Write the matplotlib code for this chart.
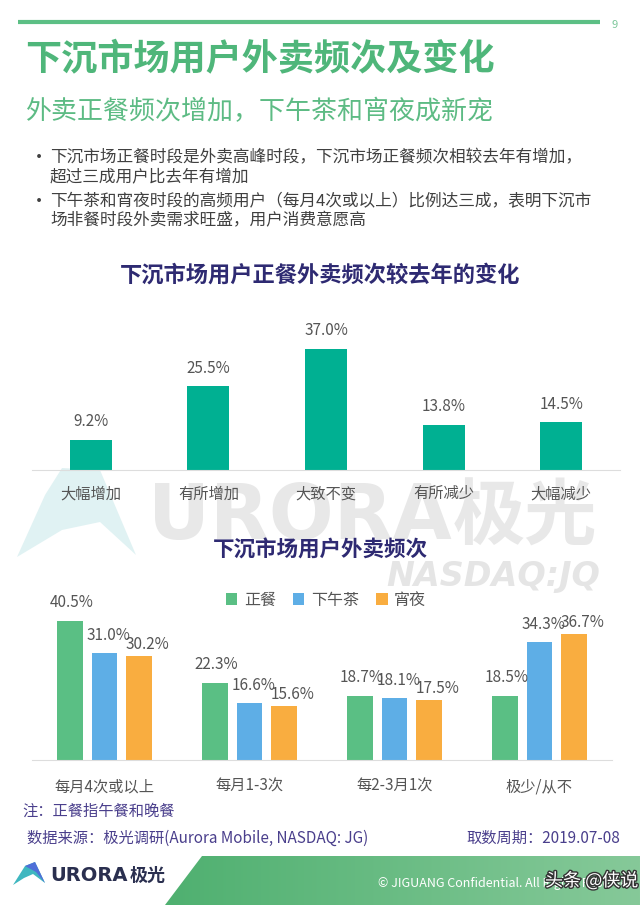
import numpy as np
import matplotlib
matplotlib.use("Agg")
import matplotlib.pyplot as plt
from matplotlib.patches import Polygon
import matplotlib.patheffects as pe

plt.rcParams['font.family'] = ['Noto Sans CJK SC', 'DejaVu Sans']

# 数据
change_labels = ["大幅增加", "有所增加", "大致不变", "有所减少", "大幅减少"]
change_values = [9.2, 25.5, 37.0, 13.8, 14.5]

freq_labels = ["每月4次或以上", "每月1-3次", "每2-3月1次", "极少/从不"]
series_names = ["正餐", "下午茶", "宵夜"]
zhengcan = [40.5, 22.3, 18.7, 18.5]
xiawucha = [31.0, 16.6, 18.1, 34.3]
xiaoye = [30.2, 15.6, 17.5, 36.7]

bullets = [
    ["下沉市场正餐时段是外卖高峰时段，下沉市场正餐频次相较去年有增加，",
     "超过三成用户比去年有增加"],
    ["下午茶和宵夜时段的高频用户（每月4次或以上）比例达三成，表明下沉市",
     "场非餐时段外卖需求旺盛，用户消费意愿高"],
]

W, H = 640, 905
fig = plt.figure(figsize=(W / 100, H / 100), dpi=100)

# 背景层，用像素坐标
bg = fig.add_axes([0, 0, 1, 1], zorder=-1)
bg.set_xlim(0, W)
bg.set_ylim(H, 0)
bg.axis("off")

green_title = "#4fb67a"
navy = "#2e2a72"
gray_txt = "#555555"
light = "light"

# 顶部线和页码
bg.plot([18, 600], [22, 22], color="#5cbf85", lw=3, solid_capstyle="butt")
bg.text(612, 25, "9", color="#7cc79a", fontsize=8, ha="left", va="center")

bg.text(25, 60, "下沉市场用户外卖频次及变化", color=green_title, fontsize=26,
        fontweight="bold", ha="left", va="center")
bg.text(25, 112, "外卖正餐频次增加，下午茶和宵夜成新宠", color="#5dbb84",
        fontsize=18.7, ha="left", va="center")

y = 158
for lines in bullets:
    bg.text(30, y, "•", color="#404040", fontsize=13, ha="left", va="center")
    for ln in lines:
        bg.text(50, y, ln, color="#404040", fontsize=12, fontweight=light,
                ha="left", va="center")
        y += 19
    y += 6

# 水印
bg.add_patch(Polygon([(17, 557), (45, 495), (62, 468), (100, 470), (136, 555),
                      (100, 522), (62, 530)], closed=True,
                     facecolor="#d9eff0", edgecolor="none", alpha=0.8))
bg.text(148, 518, "URORA", color="#e8e8e8", fontsize=55, fontweight="bold",
        family="DejaVu Sans", ha="left", va="center")
bg.text(453, 518, "极光", color="#e8e8e8", fontsize=52, fontweight="bold",
        ha="left", va="center")
bg.text(600, 576, "NASDAQ:JQ", color="#e5e5e5", fontsize=24, fontweight="bold",
        style="italic", family="DejaVu Sans", ha="right", va="center")

# 图1
bg.text(320, 275, "下沉市场用户正餐外卖频次较去年的变化", color=navy, fontsize=16,
        fontweight="bold", ha="center", va="center")

ax1 = fig.add_axes([32 / W, 1 - 470 / H, (620 - 32) / W, 170 / H])
ax1.set_facecolor("none")
x1 = np.arange(len(change_labels))
ax1.bar(x1, change_values, width=0.357, color="#00b092")
for xi, v in zip(x1, change_values):
    ax1.annotate(f"{v:.1f}%", (xi, v), xytext=(0, 7), textcoords="offset points",
                 ha="center", va="bottom", fontsize=11, fontweight=light, color=gray_txt)
ax1.set_xlim(-0.5, len(change_labels) - 0.5)
ax1.set_ylim(0, 170 / 3.28)
ax1.set_xticks(x1)
ax1.set_xticklabels(change_labels, fontsize=11, fontweight=light, color=gray_txt)
ax1.tick_params(axis="x", length=0, pad=11)
ax1.set_yticks([])
for s in ["top", "right", "left"]:
    ax1.spines[s].set_visible(False)
ax1.spines["bottom"].set_color("#dddddd")

# 图2
bg.text(320, 550, "下沉市场用户外卖频次", color=navy, fontsize=15.5,
        fontweight="bold", ha="center", va="center")

ax2 = fig.add_axes([32 / W, 1 - 760 / H, (612 - 32) / W, 170 / H])
ax2.set_facecolor("none")
x2 = np.arange(len(freq_labels))
bw = 0.179
step = 0.241
colors = ["#5abf84", "#5eaee6", "#f9ad40"]
label_dx = [2, 4, 8]
label_dy = [10, 9, 3]
for i, (vals, name) in enumerate(zip([zhengcan, xiawucha, xiaoye], series_names)):
    xs = x2 + (i - 1) * step
    ax2.bar(xs, vals, width=bw, color=colors[i], label=name)
    for xi, v in zip(xs, vals):
        ax2.annotate(f"{v:.1f}%", (xi, v), xytext=(label_dx[i] * 0.72, label_dy[i] * 0.72),
                     textcoords="offset points", ha="center", va="bottom",
                     fontsize=11, fontweight=light, color=gray_txt)
ax2.set_xlim(-0.5, len(freq_labels) - 0.5)
ax2.set_ylim(0, 170 / 3.44)
ax2.set_xticks(x2)
ax2.set_xticklabels(freq_labels, fontsize=11, fontweight=light, color=gray_txt)
ax2.tick_params(axis="x", length=0, pad=13)
ax2.set_yticks([])
for s in ["top", "right", "left"]:
    ax2.spines[s].set_visible(False)
ax2.spines["bottom"].set_color("#dddddd")

leg = ax2.legend(loc="center", bbox_to_anchor=(326 / W, 1 - 600 / H),
                 bbox_transform=fig.transFigure, ncol=3, frameon=False,
                 fontsize=11.5, handlelength=0.7, handleheight=0.7,
                 handletextpad=0.4, columnspacing=1.1)
for t in leg.get_texts():
    t.set_color(gray_txt)

# 注释和来源
note_color = "#4a3f8c"
bg.text(22, 811, "注：正餐指午餐和晚餐", color=note_color, fontsize=11,
        ha="left", va="center")
bg.text(27, 838, "数据来源：极光调研(Aurora Mobile, NASDAQ: JG)", color=note_color,
        fontsize=11, ha="left", va="center")
bg.text(620, 838, "取数周期：2019.07-08", color=note_color, fontsize=11,
        ha="right", va="center")

# 底部绿色条
foot = Polygon([(202, 856), (W, 856), (W, H), (165, H)], closed=True,
               facecolor="none", edgecolor="none")
bg.add_patch(foot)
grad = np.linspace(0, 1, 256).reshape(1, -1)
cmap = matplotlib.colors.LinearSegmentedColormap.from_list("g", ["#4fb070", "#86c999"])
im = bg.imshow(grad, extent=[165, W, H, 856], cmap=cmap, aspect="auto", zorder=1)
im.set_clip_path(foot)
bg.set_xlim(0, W)
bg.set_ylim(H, 0)

bg.text(378, 883, "© JIGUANG Confidential. All Rights Reserved", color="white",
        fontsize=9, ha="left", va="center", zorder=2)
bg.text(545, 881, "头条 @侠说", color="white", fontsize=13, ha="left", va="center",
        zorder=3, path_effects=[pe.withStroke(linewidth=2, foreground="#333333")])

# logo
bg.add_patch(Polygon([(13, 885), (25, 866), (35, 862), (45, 883), (33, 874), (24, 878)],
                     closed=True, facecolor="#3fb7c0", edgecolor="none", zorder=2))
bg.add_patch(Polygon([(25, 866), (35, 862), (45, 883), (36, 872)],
                     closed=True, facecolor="#4f6fd8", edgecolor="none", zorder=3))
bg.text(50, 875, "URORA", color="#2a2f4f", fontsize=14, fontweight="bold",
        family="DejaVu Sans", ha="left", va="center")
bg.text(130, 875, "极光", color="#2a2f4f", fontsize=13, fontweight="bold",
        ha="left", va="center")

fig.savefig("out.png", dpi=100)
